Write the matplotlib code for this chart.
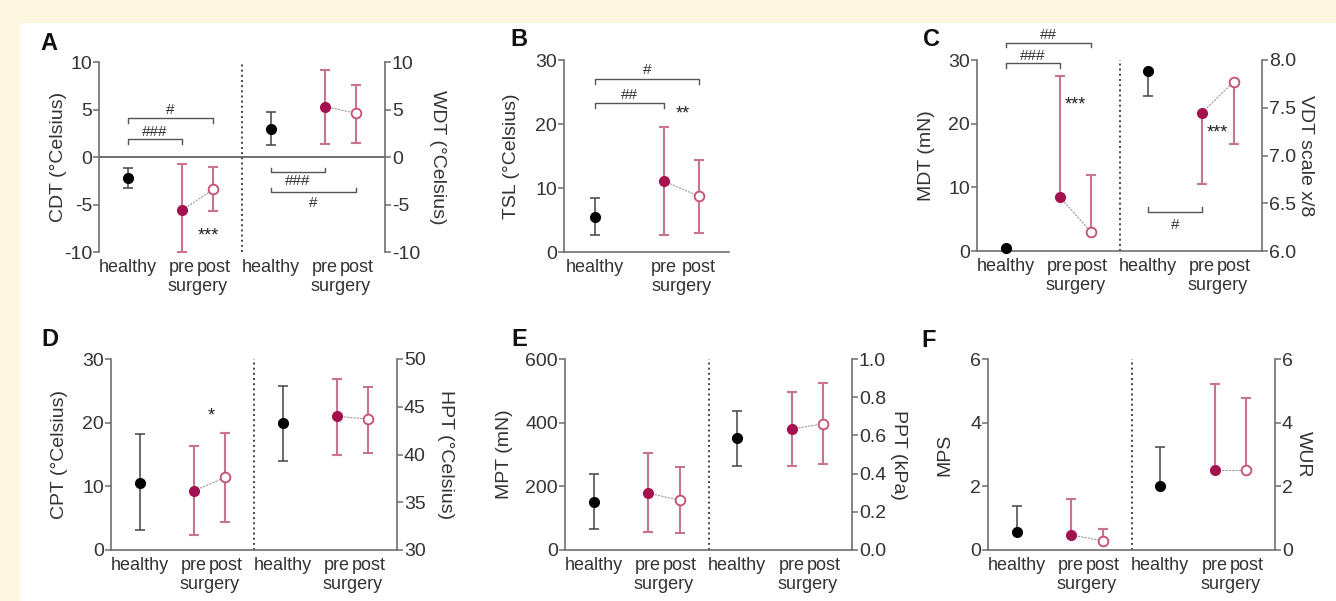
import matplotlib.pyplot as plt
from matplotlib.patches import Rectangle

plt.rcParams['font.family'] = ['Liberation Sans', 'DejaVu Sans']
plt.rcParams['axes.unicode_minus'] = False

groups = ['healthy', 'pre', 'post']

# A: CDT / WDT (deg C)
cdt_mean = [-2.2, -5.6, -3.4]
cdt_lo = [-3.3, -10.0, -5.7]
cdt_hi = [-1.2, -0.7, -1.1]
wdt_mean = [3.0, 5.3, 4.6]
wdt_lo = [1.3, 1.4, 1.5]
wdt_hi = [4.7, 9.2, 7.6]

# B: TSL (deg C)
tsl_mean = [5.5, 11.1, 8.7]
tsl_lo = [2.6, 2.7, 3.0]
tsl_hi = [8.4, 19.5, 14.4]

# C: MDT (mN) / VDT scale x/8
mdt_mean = [0.4, 8.5, 3.0]
mdt_lo = [0.4, 8.5, 3.0]
mdt_hi = [0.4, 27.5, 11.9]
vdt_mean = [7.88, 7.45, 7.77]
vdt_lo = [7.62, 6.70, 7.12]
vdt_hi = [7.88, 7.45, 7.77]

# D: CPT / HPT (deg C)
cpt_mean = [10.6, 9.3, 11.4]
cpt_lo = [3.1, 2.3, 4.4]
cpt_hi = [18.2, 16.4, 18.4]
hpt_mean = [43.3, 44.0, 43.7]
hpt_lo = [39.3, 40.0, 40.2]
hpt_hi = [47.2, 47.9, 47.1]

# E: MPT (mN) / PPT (kPa)
mpt_mean = [152, 179, 156]
mpt_lo = [66, 56, 52]
mpt_hi = [238, 304, 260]
ppt_mean = [0.586, 0.633, 0.661]
ppt_lo = [0.441, 0.441, 0.449]
ppt_hi = [0.729, 0.825, 0.874]

# F: MPS / WUR
mps_mean = [0.55, 0.47, 0.29]
mps_lo = [0.55, 0.47, 0.29]
mps_hi = [1.38, 1.59, 0.67]
wur_mean = [2.02, 2.51, 2.51]
wur_lo = [2.02, 2.51, 2.51]
wur_hi = [3.25, 5.22, 4.76]

PINK = '#c8738f'
CRIMSON = '#a3124e'
POST_EDGE = '#c4506f'
GREY = '#6e6e6e'
TXT = '#333333'

W, H = 1336, 601
POS = [0.2, 0.58, 0.8]
POS2 = [1.2, 1.58, 1.8]

fig = plt.figure(figsize=(W / 100, H / 100), dpi=100)
fig.patch.set_facecolor('#fdf7e2')
fig.patches.append(Rectangle((20 / W, 0), 1, 1 - 23 / H, transform=fig.transFigure,
                             facecolor='white', edgecolor='none', zorder=-10))


def make_ax(x0, x1, ytop, ybot):
    ax = fig.add_axes([x0 / W, 1 - ybot / H, (x1 - x0) / W, (ybot - ytop) / H])
    ax.patch.set_alpha(0)
    return ax


def style(ax, side):
    for s in ax.spines.values():
        s.set_color(GREY)
        s.set_linewidth(1.2)
    ax.spines['top'].set_visible(False)
    if side == 'left':
        ax.spines['right'].set_visible(False)
    else:
        ax.spines['left'].set_visible(False)
        ax.spines['bottom'].set_visible(False)
    ax.tick_params(axis='y', direction='out', length=4, width=1.1, color=GREY,
                   labelcolor=TXT, labelsize=14, pad=1)


def draw_group(ax, xs, mean, lo, hi):
    for i in range(3):
        c = '#444444' if i == 0 else PINK
        lw = 1.1 if i == 0 else 1.5
        ax.vlines(xs[i], lo[i], hi[i], color=c, lw=lw, zorder=2)
        for v in (lo[i], hi[i]):
            if v != mean[i]:
                ax.plot(xs[i], v, marker='_', ms=7, mew=lw, color=c, zorder=2)
    ax.plot(xs[1:], mean[1:], color='#9a9a9a', lw=0.8, ls=(0, (2, 1)), zorder=2)
    ax.plot(xs[0], mean[0], 'o', ms=7, color='black', zorder=3, clip_on=False)
    ax.plot(xs[1], mean[1], 'o', ms=7, mfc=CRIMSON, mec=CRIMSON, zorder=3)
    ax.plot(xs[2], mean[2], 'o', ms=7, mfc='white', mec=POST_EDGE, mew=1.3, zorder=3)


def xlabels(ax, positions):
    ax.set_xticks(positions)
    ax.set_xticklabels(groups * (len(positions) // 3))
    ax.tick_params(axis='x', length=0, labelsize=13, labelcolor=TXT, pad=5)
    for k in range(len(positions) // 3):
        mid = (positions[3 * k + 1] + positions[3 * k + 2]) / 2
        ax.annotate('surgery', xy=(mid, 0), xycoords=('data', 'axes fraction'),
                    xytext=(0, -19), textcoords='offset points', ha='center', va='top',
                    fontsize=13, color=TXT)


def bracket(ax, x1, x2, y, tip, label, ty):
    ax.plot([x1, x1, x2, x2], [y + tip, y, y, y + tip], color='#555555', lw=1, clip_on=False)
    ax.text((x1 + x2) / 2, ty, label, ha='center', va='center', fontsize=11, color=TXT)


def stars(ax, x, y, label):
    ax.text(x, y, label, ha='center', va='center', fontsize=13, color='#222222')


def two_part(x0, x1, ytop, ybot, left, right, lims, lims2, ticks, ticks2,
             ylab, ylab2, off, off2, fmt2=None, bottom=True):
    ax = make_ax(x0, x1, ytop, ybot)
    ax2 = ax.twinx()
    ax2.patch.set_alpha(0)
    style(ax, 'left')
    style(ax2, 'right')
    ax.set_xlim(0, 2)
    ax.set_ylim(*lims)
    ax2.set_ylim(*lims2)
    ax.set_yticks(ticks)
    ax2.set_yticks(ticks2)
    if fmt2:
        ax2.set_yticklabels([fmt2 % t for t in ticks2])
    if not bottom:
        ax.spines['bottom'].set_visible(False)
    draw_group(ax, POS, *left)
    draw_group(ax2, POS2, *right)
    ax.axvline(1.0, ls=':', color='#444444', lw=1.4, zorder=1)
    xlabels(ax, POS + POS2)
    wpx = x1 - x0
    ax.set_ylabel(ylab, fontsize=14, color=TXT)
    ax.yaxis.set_label_coords(off / wpx, 0.5)
    ax2.set_ylabel(ylab2, fontsize=14, color=TXT, rotation=270, va='center')
    ax2.yaxis.set_label_coords(1 + off2 / wpx, 0.5)
    return ax, ax2


# ---- A ----
axA, axA2 = two_part(99, 385, 62, 252, (cdt_mean, cdt_lo, cdt_hi), (wdt_mean, wdt_lo, wdt_hi),
                     (-10, 10), (-10, 10), [-10, -5, 0, 5, 10], [-10, -5, 0, 5, 10],
                     'CDT (°Celsius)', 'WDT (°Celsius)', -32, 52, bottom=False)
axA.axhline(0, color='#555555', lw=1.2, zorder=1)
bracket(axA, POS[0], POS[2], 4.1, -0.5, '#', 4.9)
bracket(axA, POS[0], POS[1], 1.9, -0.5, '###', 2.6)
bracket(axA2, POS2[0], POS2[1], -1.6, 0.4, '###', -2.5)
bracket(axA2, POS2[0], POS2[2], -3.7, 0.4, '#', -4.8)
stars(axA, 0.762, -8.3, '***')

# ---- B ----
axB = make_ax(564, 729, 60, 252)
style(axB, 'left')
posB = [0.22, 0.70, 0.95]
axB.set_xlim(0, 1.16)
axB.set_ylim(0, 30)
axB.set_yticks([0, 10, 20, 30])
draw_group(axB, posB, tsl_mean, tsl_lo, tsl_hi)
xlabels(axB, posB)
axB.set_ylabel('TSL (°Celsius)', fontsize=14, color=TXT)
axB.yaxis.set_label_coords(-44 / 165, 0.5)
bracket(axB, posB[0], posB[2], 27.0, -0.7, '#', 28.4)
bracket(axB, posB[0], posB[1], 23.3, -0.8, '##', 24.5)
stars(axB, 0.835, 21.6, '**')

# ---- C ----
axC, axC2 = two_part(977, 1262, 60, 251, (mdt_mean, mdt_lo, mdt_hi), (vdt_mean, vdt_lo, vdt_hi),
                     (0, 30), (6, 8), [0, 10, 20, 30], [6.0, 6.5, 7.0, 7.5, 8.0],
                     'MDT (mN)', 'VDT scale x/8', -42, 43, fmt2='%.1f')
bracket(axC, POS[0], POS[2], 32.7, -0.7, '##', 33.9)
bracket(axC, POS[0], POS[1], 29.5, -0.7, '###', 30.7)
stars(axC, 0.69, 23.0, '***')
stars(axC2, 1.684, 7.24, '***')
bracket(axC2, POS2[0], POS2[1], 6.41, 0.05, '#', 6.27)

# ---- D ----
axD, axD2 = two_part(111, 397, 359, 550, (cpt_mean, cpt_lo, cpt_hi), (hpt_mean, hpt_lo, hpt_hi),
                     (0, 30), (30, 50), [0, 10, 20, 30], [30, 35, 40, 45, 50],
                     'CPT (°Celsius)', 'HPT (°Celsius)', -43, 48)
stars(axD, 0.70, 21.0, '*')

# ---- E ----
axE, axE2 = two_part(565, 852, 359, 550, (mpt_mean, mpt_lo, mpt_hi), (ppt_mean, ppt_lo, ppt_hi),
                     (0, 600), (0, 1), [0, 200, 400, 600], [0, 0.2, 0.4, 0.6, 0.8, 1.0],
                     'MPT (mN)', 'PPT (kPa)', -52, 46, fmt2='%.1f')

# ---- F ----
axF, axF2 = two_part(988, 1275, 359, 550, (mps_mean, mps_lo, mps_hi), (wur_mean, wur_lo, wur_hi),
                     (0, 6), (0, 6), [0, 2, 4, 6], [0, 2, 4, 6],
                     'MPS', 'WUR', -35, 28)

for letter, (px, py) in zip('ABCDEF', [(49, 44), (519, 39), (932, 39),
                                      (50, 339), (519, 339), (929, 340)]):
    fig.text(px / W, 1 - py / H, letter, fontsize=17, fontweight='bold',
             ha='center', va='center', color='#111111')

fig.savefig('out.png', dpi=100)
